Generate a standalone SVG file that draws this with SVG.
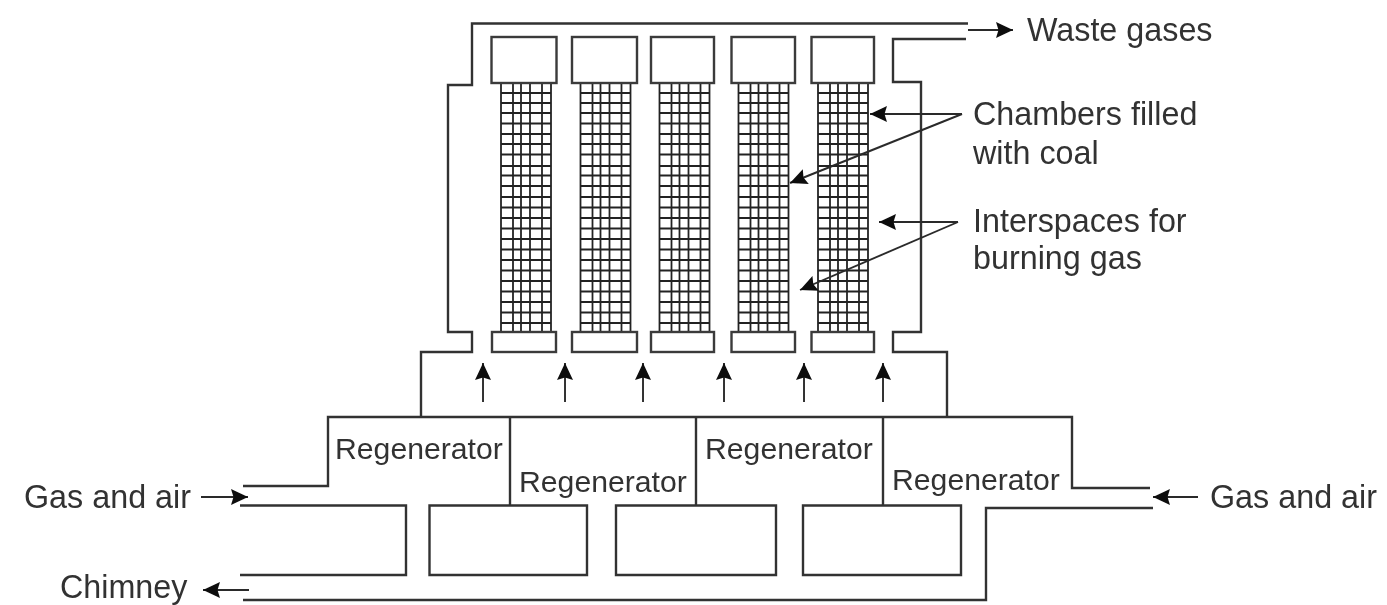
<svg xmlns="http://www.w3.org/2000/svg" width="1387" height="605" viewBox="0 0 1387 605">
<style>
.w{fill:none;stroke:#333;stroke-width:2.400}
.g{stroke:#222;stroke-width:1.800;fill:none}
.b{fill:#fff;stroke:#3a3a3a;stroke-width:2.400}
.a{stroke:#2a2a2a;stroke-width:1.900;fill:none}
text{font-family:"Liberation Sans",Arial,sans-serif;font-size:32.300px;fill:#333}
text.r{font-size:30.200px}
</style>
<defs>
<filter id="soft" x="0" y="0" width="1" height="1" filterUnits="objectBoundingBox"><feGaussianBlur stdDeviation="0.600"/></filter>
<marker id="h" markerUnits="userSpaceOnUse" markerWidth="20" markerHeight="18" refX="17" refY="9" orient="auto"><path d="M0 1L17 9L0 17L2.500 9Z" fill="#111"/></marker>
<g id="grid">
<path class="g" d="M0 0V249M12 0V249M20 0V249M29 0V249M41 0V249M50 0V249M0 10H50M0 20H50M0 30H50M0 40.500H50M0 51H50M0 61H50M0 71.500H50M0 83H50M0 92.500H50M0 103H50M0 114H50M0 124.500H50M0 135H50M0 145.500H50M0 156H50M0 166.500H50M0 177H50M0 187.500H50M0 198H50M0 208.500H50M0 219H50M0 229.500H50M0 240H50"/>
</g>
</defs>
<g filter="url(#soft)">
<g id="furnace-wall">
<path class="w" d="M968 23.500H472V85H448V332H472V352H421V417"/>
<path class="w" d="M966 39H893V82H921V332H893V352H947V417"/>
</g>
<g id="chamber-1"><use href="#grid" x="501" y="83"/><rect class="b" x="491.500" y="37" width="65" height="46"/><rect class="b" x="492" y="332" width="64" height="20"/></g>
<g id="chamber-2"><use href="#grid" x="580.500" y="83"/><rect class="b" x="572" y="37" width="65" height="46"/><rect class="b" x="572" y="332" width="65" height="20"/></g>
<g id="chamber-3"><use href="#grid" x="659.500" y="83"/><rect class="b" x="651" y="37" width="63" height="46"/><rect class="b" x="651" y="332" width="63" height="20"/></g>
<g id="chamber-4"><use href="#grid" x="738.500" y="83"/><rect class="b" x="731.500" y="37" width="63.500" height="46"/><rect class="b" x="731.500" y="332" width="63.500" height="20"/></g>
<g id="chamber-5"><use href="#grid" x="818" y="83"/><rect class="b" x="811.500" y="37" width="62.500" height="46"/><rect class="b" x="811.500" y="332" width="62.500" height="20"/></g>
<g id="regenerators">
<path class="w" d="M243 486H328V417H1072V488H1150"/>
<path class="w" d="M510 417V505M696 417V505M883 417V505"/>
<path class="w" d="M240 505.500H406V575H240"/>
<path class="w" d="M587 505.500H429.500V575H587ZM776 505.500H616V575H776ZM961 505.500H803V575H961Z"/>
<path class="w" d="M1153 508H986V600H243"/>
</g>
<g id="connectors">
<path class="a" marker-end="url(#h)" d="M483 402V363"/>
<path class="a" marker-end="url(#h)" d="M565 402V363"/>
<path class="a" marker-end="url(#h)" d="M643 402V363"/>
<path class="a" marker-end="url(#h)" d="M724 402V363"/>
<path class="a" marker-end="url(#h)" d="M804 402V363"/>
<path class="a" marker-end="url(#h)" d="M883 402V363"/>
<path class="a" marker-end="url(#h)" d="M968 30H1013"/>
<path class="a" marker-end="url(#h)" d="M201 497H248"/>
<path class="a" marker-end="url(#h)" d="M1198 497H1153"/>
<path class="a" marker-end="url(#h)" d="M249 590H203"/>
<path class="a" marker-end="url(#h)" d="M962 114H870"/>
<path class="a" marker-end="url(#h)" d="M962 114L790 183"/>
<path class="a" marker-end="url(#h)" d="M958 222H879"/>
<path class="a" marker-end="url(#h)" d="M958 222L800 290"/>
</g>
<g id="labels">
<text x="1027" y="41">Waste gases</text>
<text x="973" y="125">Chambers filled</text>
<text x="973" y="164">with coal</text>
<text x="973" y="232">Interspaces for</text>
<text x="973" y="269">burning gas</text>
<text class="r" x="335" y="459">Regenerator</text>
<text class="r" x="519" y="492">Regenerator</text>
<text class="r" x="705" y="459">Regenerator</text>
<text class="r" x="892" y="490">Regenerator</text>
<text x="24" y="508">Gas and air</text>
<text x="1210" y="508">Gas and air</text>
<text x="60" y="598">Chimney</text>
</g>
</g>
</svg>
